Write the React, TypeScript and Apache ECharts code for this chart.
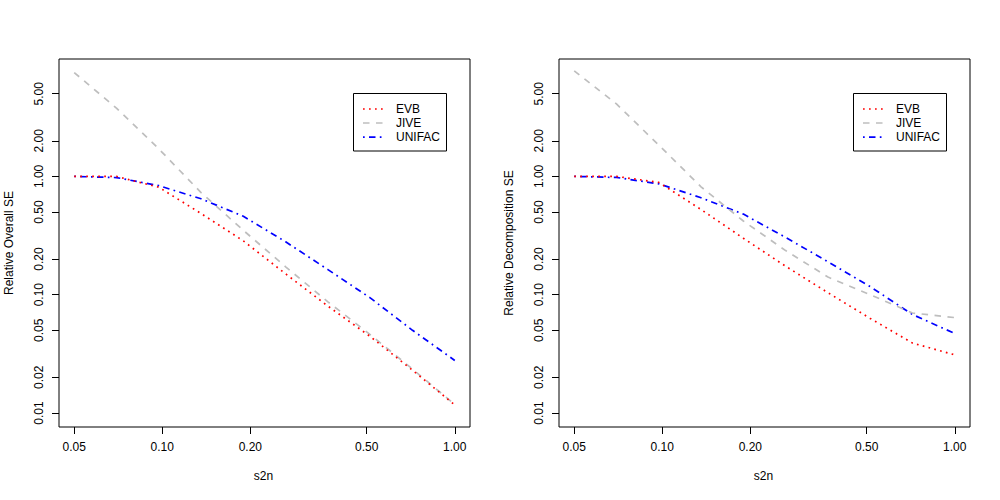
import React, { useEffect, useRef } from "react";
import * as echarts from "echarts";

const s2n = [0.05, 0.0697, 0.0973, 0.1357, 0.1893, 0.2641, 0.3684, 0.5139, 0.7169, 1.0];

const overallEVB = [1.0, 1.0, 0.81, 0.486, 0.285, 0.15, 0.08, 0.0443, 0.023, 0.0117];
const overallJIVE = [7.55, 3.78, 1.71, 0.73, 0.35, 0.172, 0.087, 0.046, 0.0235, 0.0118];
const overallUNIFAC = [1.0, 0.978, 0.835, 0.647, 0.46, 0.28, 0.163, 0.094, 0.05, 0.0278];

const decompEVB = [1.0, 1.0, 0.89, 0.525, 0.3, 0.174, 0.104, 0.063, 0.039, 0.031];
const decompJIVE = [7.8, 4.1, 1.84, 0.817, 0.42, 0.236, 0.141, 0.1, 0.07, 0.064];
const decompUNIFAC = [1.0, 0.98, 0.865, 0.66, 0.48, 0.305, 0.19, 0.117, 0.068, 0.047];

const xTicks = [0.05, 0.1, 0.2, 0.5, 1.0];
const yTicks = [0.01, 0.02, 0.05, 0.1, 0.2, 0.5, 1.0, 2.0, 5.0];

const methodNames = ["EVB", "JIVE", "UNIFAC"];
const panelTitles = ["Relative Overall SE", "Relative Decomposition SE"];
const xTitle = "s2n";

const COLORS = ["#FF0000", "#BEBEBE", "#0000FF"];
const LW = 1.7;
const DASHES = [
  [1.7, 4.3],
  [6.5, 6.5],
  [1.7, 4.3, 6.5, 4.3],
];

const FONT = "Liberation Sans, Arial, Helvetica, sans-serif";

const X_MIN = -1.35307;
const X_MAX = 0.05204;
const Y_MIN = -2.1185;
const Y_MAX = 0.9926;

const GRID_TOP = 59;
const GRID_H = 368;
const GRID_W = 411;
const GRID_LEFTS = [59, 559];

export default function App() {
  const ref = useRef<HTMLDivElement>(null);

  useEffect(() => {
    if (!ref.current) return;
    const chart = echarts.init(ref.current, undefined, { renderer: "svg" });
    const panels = [
      [overallEVB, overallJIVE, overallUNIFAC],
      [decompEVB, decompJIVE, decompUNIFAC],
    ];

    const grids: any[] = [];
    const xAxes: any[] = [];
    const yAxes: any[] = [];
    const series: any[] = [];
    const graphics: any[] = [];

    GRID_LEFTS.forEach((left, p) => {
      grids.push({
        left,
        top: GRID_TOP,
        width: GRID_W,
        height: GRID_H,
        show: true,
        borderColor: "#000",
        borderWidth: 1,
        backgroundColor: "transparent",
        containLabel: false,
        outerBoundsMode: "none",
      });
      xAxes.push({
        type: "value",
        gridIndex: p,
        position: "bottom",
        min: X_MIN,
        max: X_MAX,
        axisLine: { show: false, onZero: false },
        splitLine: { show: false },
        axisTick: {
          show: true,
          inside: false,
          length: 7,
          customValues: xTicks.map((v) => Math.log10(v)),
          lineStyle: { color: "#000", width: 1 },
        },
        axisLabel: {
          show: true,
          margin: 14,
          customValues: xTicks.map((v) => Math.log10(v)),
          formatter: (v: number) => Math.pow(10, v).toFixed(2),
          color: "#000",
          fontSize: 12,
          fontFamily: FONT,
        },
      });
      yAxes.push({
        type: "value",
        gridIndex: p,
        position: "left",
        min: Y_MIN,
        max: Y_MAX,
        axisLine: { show: false, onZero: false },
        splitLine: { show: false },
        axisTick: {
          show: true,
          inside: false,
          length: 7,
          customValues: yTicks.map((v) => Math.log10(v)),
          lineStyle: { color: "#000", width: 1 },
        },
        axisLabel: {
          show: true,
          rotate: 90,
          margin: 14,
          customValues: yTicks.map((v) => Math.log10(v)),
          formatter: (v: number) => Math.pow(10, v).toFixed(2),
          color: "#000",
          fontSize: 12,
          fontFamily: FONT,
        },
      });

      panels[p].forEach((vals, m) => {
        series.push({
          type: "line",
          name: methodNames[m] + (p ? " decomposition" : " overall"),
          xAxisIndex: p,
          yAxisIndex: p,
          data: s2n.map((x, i) => [Math.log10(x), Math.log10(vals[i])]),
          symbol: "none",
          smooth: false,
          clip: false,
          lineStyle: {
            color: COLORS[m],
            width: LW,
            type: DASHES[m],
            cap: "butt",
          },
          z: 3 - m,
        });
      });

      // axis titles
      graphics.push({
        type: "text",
        x: left + GRID_W / 2 - 1,
        y: 476,
        style: {
          text: xTitle,
          fill: "#000",
          font: `12px ${FONT}`,
          textAlign: "center",
          textVerticalAlign: "middle",
        },
      });
      graphics.push({
        type: "text",
        x: left - 50,
        y: GRID_TOP + GRID_H / 2,
        rotation: Math.PI / 2,
        style: {
          text: panelTitles[p],
          fill: "#000",
          font: `12px ${FONT}`,
          textAlign: "center",
          textVerticalAlign: "middle",
        },
      });

      // legend
      const lx = left + 294;
      graphics.push({
        type: "rect",
        shape: { x: lx + 0.5, y: 93.5, width: 93, height: 57.5 },
        style: { fill: "#fff", stroke: "#000", lineWidth: 1 },
        z: 10,
      });
      const rowsY = [109, 123, 137.2];
      methodNames.forEach((name, m) => {
        graphics.push({
          type: "line",
          shape: { x1: lx + 10, y1: rowsY[m], x2: lx + 31, y2: rowsY[m] },
          style: {
            stroke: COLORS[m],
            lineWidth: LW,
            lineDash: DASHES[m],
            lineCap: "butt",
          },
          z: 11,
        });
        graphics.push({
          type: "text",
          x: lx + 43,
          y: rowsY[m],
          style: {
            text: name,
            fill: "#000",
            font: `12px ${FONT}`,
            textAlign: "left",
            textVerticalAlign: "middle",
          },
          z: 11,
        });
      });
    });

    chart.setOption({
      animation: false,
      backgroundColor: "#fff",
      textStyle: { fontFamily: FONT },
      grid: grids,
      xAxis: xAxes,
      yAxis: yAxes,
      series,
      graphic: graphics,
    });

    return () => chart.dispose();
  }, []);

  return (
    <div
      ref={ref}
      style={{ position: "fixed", left: 0, top: 0, width: 1000, height: 500, background: "#fff" }}
    />
  );
}
